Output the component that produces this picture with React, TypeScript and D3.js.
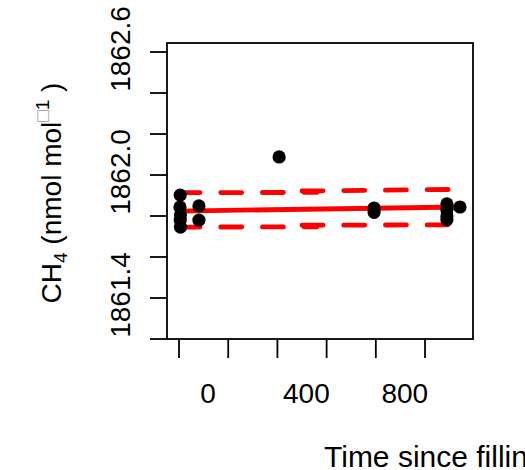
import React from "react";
import * as d3 from "d3";

// Data
const timeH = [5, 4, 6, 5, 6, 81, 81, 407, 793, 793, 1089, 1089, 1089, 1089, 1142];
const ch4 = [1861.902, 1861.844, 1861.805, 1861.78, 1861.746, 1861.849, 1861.78, 1862.088, 1861.839, 1861.818, 1861.859, 1861.829, 1861.8, 1861.782, 1861.844];

const fitX = [0, 1142];
const fitY = [1861.824, 1861.844];

const upper1X = [0, 560];
const upper1Y = [1861.914, 1861.915];
const upper2X = [500, 1142];
const upper2Y = [1861.922, 1861.93];
const lower1X = [0, 560];
const lower1Y = [1861.746, 1861.747];
const lower2X = [500, 1142];
const lower2Y = [1861.755, 1861.757];

const xTicks = [0, 200, 400, 600, 800, 1000];
const xLabels = [0, 400, 800];
const yTicks = [1861.2, 1861.4, 1861.6, 1861.8, 1862.0, 1862.2, 1862.4, 1862.6];
const yLabels = [1862.6, 1862.0, 1861.4];

const W = 525;
const H = 470;
const box = { l: 167, r: 473, t: 43, b: 339 };

export default function App() {
  const x = d3.scaleLinear().domain([-48.8, 1195]).range([box.l, box.r]);
  const y = d3.scaleLinear().domain([1861.2, 1862.644]).range([box.b, box.t]);
  const line = (xs: number[], ys: number[]) =>
    d3.line<number>().x((d) => x(xs[d])).y((d) => y(ys[d]))(xs.map((_, i) => i)) || "";
  const font = "'Liberation Sans', Arial, sans-serif";
  const dash = "21 20.7";
  const red = "#FF0000";
  return (
    <svg
      width={W}
      height={H}
      style={{ position: "absolute", left: 0, top: 0, background: "#fff" }}
      fontFamily={font}
    >
      <rect x={0} y={0} width={W} height={H} fill="#fff" />
      {/* fit and bands */}
      <path d={line(fitX, fitY)} stroke={red} strokeWidth={4.8} fill="none" strokeLinecap="round" />
      {[
        [upper1X, upper1Y],
        [upper2X, upper2Y],
        [lower1X, lower1Y],
        [lower2X, lower2Y],
      ].map(([xs, ys], i) => (
        <path
          key={i}
          d={line(xs, ys)}
          stroke={red}
          strokeWidth={4.8}
          fill="none"
          strokeDasharray={dash}
          strokeLinecap="round"
        />
      ))}
      {/* points */}
      {timeH.map((t, i) => (
        <circle key={i} cx={x(t)} cy={y(ch4[i])} r={6.6} fill="#000" />
      ))}
      {/* box */}
      <rect
        x={box.l}
        y={box.t}
        width={box.r - box.l}
        height={box.b - box.t}
        fill="none"
        stroke="#000"
        strokeWidth={1.8}
      />
      {/* x axis */}
      {xTicks.map((t) => (
        <line key={t} x1={x(t)} x2={x(t)} y1={box.b} y2={box.b + 19} stroke="#000" strokeWidth={1.8} />
      ))}
      {xLabels.map((t) => (
        <text key={t} x={x(t) + 29} y={403} fontSize={28} textAnchor="middle" fill="#000">
          {t}
        </text>
      ))}
      {/* y axis */}
      {yTicks.map((t) => (
        <line key={t} x1={box.l - 17} x2={box.l} y1={y(t)} y2={y(t)} stroke="#000" strokeWidth={1.8} />
      ))}
      {yLabels.map((t) => (
        <text
          key={t}
          transform={`translate(130,${y(t) - 3}) rotate(-90)`}
          fontSize={28}
          textAnchor="middle"
          fill="#000"
        >
          {t.toFixed(1)}
        </text>
      ))}
      {/* axis titles */}
      <text x={324} y={467} fontSize={30} fill="#000">
        Time since filling (h)
      </text>
      <text transform="translate(61,193) rotate(-90)" fontSize={28} textAnchor="middle" fill="#000">
        <tspan>CH</tspan>
        <tspan fontSize={19} dy={6}>4</tspan>
        <tspan dy={-6}>{"  (nmol mol"}</tspan>
        <tspan fontSize={19} dy={-12} fill="#999">{"\u25A1"}</tspan>
        <tspan fontSize={19}>1</tspan>
        <tspan dy={12}>{" )"}</tspan>
      </text>
    </svg>
  );
}
